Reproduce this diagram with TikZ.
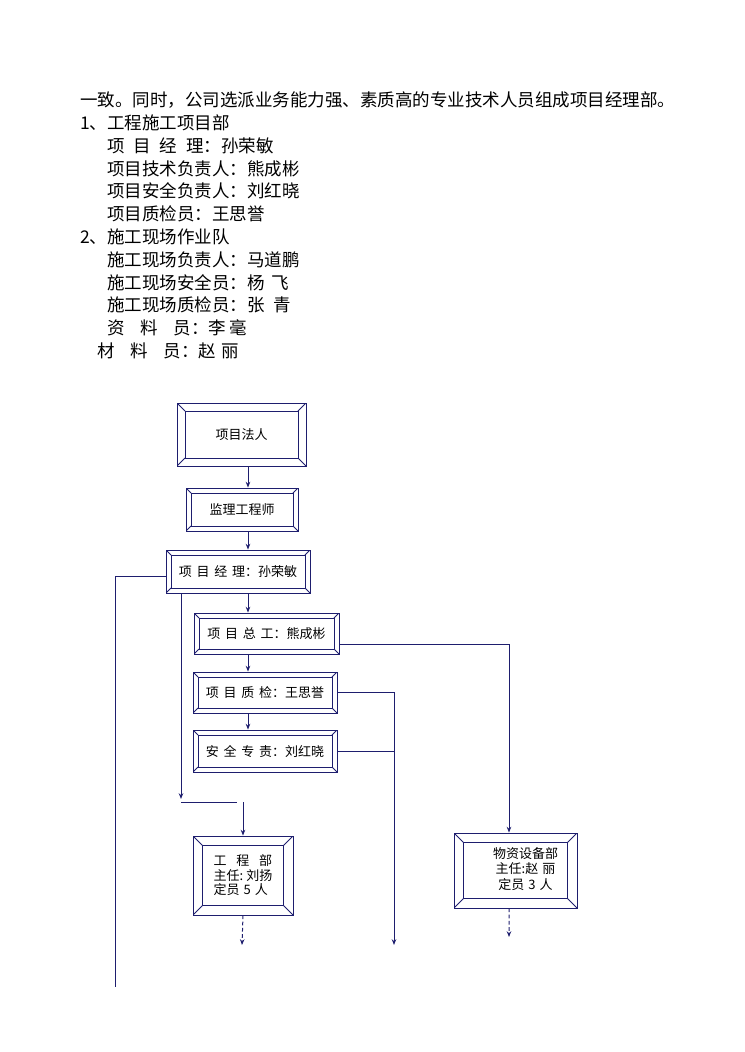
\documentclass[tikz,border=0pt]{standalone}
\usepackage{fontspec}
\setmainfont{Noto Sans CJK SC}
\usetikzlibrary{arrows.meta}
\definecolor{frame}{RGB}{30,30,110}

\tikzset{
  txt/.style={anchor=west,inner sep=0pt,font=\fontsize{14}{16}\selectfont},
  bevel/.style={draw=frame,line width=0.7pt,fill=white,inner sep=0pt,
    font=\fontsize{10.4}{11.6}\selectfont,
    path picture={
      \draw[frame,line width=0.7pt]
        ([shift={(#1,-#1)}]path picture bounding box.north west) rectangle
        ([shift={(-#1,#1)}]path picture bounding box.south east);
      \draw[frame,line width=0.7pt]
        (path picture bounding box.north west) -- ++(#1,-#1)
        (path picture bounding box.north east) -- ++(-#1,-#1)
        (path picture bounding box.south west) -- ++(#1,#1)
        (path picture bounding box.south east) -- ++(-#1,#1);
    }},
  link/.style={draw=frame,line width=0.8pt},
  arr/.style={link,-{Stealth[length=4.6pt,width=3.6pt]}},
  dasharr/.style={arr,dash pattern=on 3pt off 2pt},
}

\begin{document}
\begin{tikzpicture}[x=0.8pt,y=-0.8pt]
  \useasboundingbox (0,0) rectangle (744,1052);

  % text above the chart
  \node[txt] (intro) at (80,100)   {一致。同时，公司选派业务能力强、素质高的专业技术人员组成项目经理部。};
  \node[txt] (sec1)  at (80,122.8) {1、工程施工项目部};
  \node[txt] (pm)    at (107,145.6) {项\hspace{0.5em}目\hspace{0.5em}经\hspace{0.5em}理：孙荣敏};
  \node[txt] (tech)  at (107,168.4) {项目技术负责人：熊成彬};
  \node[txt] (safe)  at (107,191.2) {项目安全负责人：刘红晓};
  \node[txt] (qc)    at (107,214)   {项目质检员：王思誉};
  \node[txt] (sec2)  at (80,236.8)  {2、施工现场作业队};
  \node[txt] (site)  at (107,259.6) {施工现场负责人：马道鹏};
  \node[txt] (ssafe) at (107,282.4) {施工现场安全员：杨\hspace{0.4em}飞};
  \node[txt] (sqc)   at (107,305.2) {施工现场质检员：张\hspace{0.5em}青};
  \node[txt] (doc)   at (107,328)   {资\hspace{0.9em}料\hspace{0.9em}员：李\hspace{0.2em}毫};
  \node[txt] (mat)   at (97,350.8)  {材\hspace{0.9em}料\hspace{0.9em}员：赵\hspace{0.3em}丽};

  % chart boxes
  \node[bevel=6.4pt,minimum width=103.2pt,minimum height=50.4pt] (fr) at (241.5,434.5) {项目法人};
  \node[bevel=4pt,minimum width=89.6pt,minimum height=34.4pt] (jl) at (242,509.5) {监理工程师};
  \node[bevel=4pt,minimum width=115.2pt,minimum height=34.4pt] (jm) at (238,571.5)
    {项\hspace{.36em}目\hspace{.36em}经\hspace{.36em}理：孙荣敏};
  \node[bevel=4pt,minimum width=116pt,minimum height=32.8pt] (zg) at (266.5,633.5)
    {项\hspace{.36em}目\hspace{.36em}总\hspace{.36em}工：熊成彬};
  \node[bevel=4pt,minimum width=115.2pt,minimum height=32.8pt] (zj) at (265,692.5)
    {项\hspace{.36em}目\hspace{.36em}质\hspace{.36em}检：王思誉};
  \node[bevel=4pt,minimum width=115.2pt,minimum height=33.6pt] (aq) at (265,751)
    {安\hspace{.36em}全\hspace{.36em}专\hspace{.36em}责：刘红晓};
  \node[bevel=7.6pt,minimum width=80pt,minimum height=63.2pt,align=left] (gc) at (243,875.5)
    {工\hspace{.75em}程\hspace{.75em}部\\主任:\ 刘扬\\定员\hspace{.3em}5\hspace{.3em}人};
  \node[bevel=7.6pt,minimum width=98.4pt,minimum height=60pt] (wz) at (515.5,870.5)
    {\hspace{16pt}\raisebox{3pt}{\begin{tabular}{@{}c@{}}物资设备部\\主任:赵\hspace{.3em}丽\\定员\hspace{.3em}3\hspace{.3em}人\end{tabular}}};

  % connector ends
  \coordinate (ax) at (248,0);
  \coordinate (qx) at (394,945);
  \coordinate (lx) at (115,987);
  \coordinate (dx) at (181,799);
  \coordinate (hx) at (237,802);
  \coordinate (gd) at (242,945);
  \coordinate (wd) at (509,937);

  \draw[arr] (fr.south -| ax) -- (jl.north -| ax);
  \draw[arr] (jl.south -| ax) -- (jm.north -| ax);
  \draw[arr] (jm.south -| ax) -- (zg.north -| ax);
  \draw[arr] (zg.south -| ax) -- (zj.north -| ax);
  \draw[arr] (zj.south -| ax) -- (aq.north -| ax);

  \draw[arr] ([yshift=-8.4pt]zg.east) -| ([xshift=-5.2pt]wz.north);
  \draw[arr] (zj.east) -| (qx);
  \draw[link] (aq.east) -- (aq.east -| qx);
  \draw[link] ([yshift=-3.6pt]jm.west) -| (lx);
  \draw[arr] (jm.south -| dx) -- (dx);
  \draw[link] (dx |- hx) -- (hx);
  \draw[arr] (gc.north |- hx) -- (gc.north);
  \draw[dasharr] (gc.south) -- (gd);
  \draw[dasharr] ([xshift=-5.2pt]wz.south) -- (wd);
\end{tikzpicture}
\end{document}
